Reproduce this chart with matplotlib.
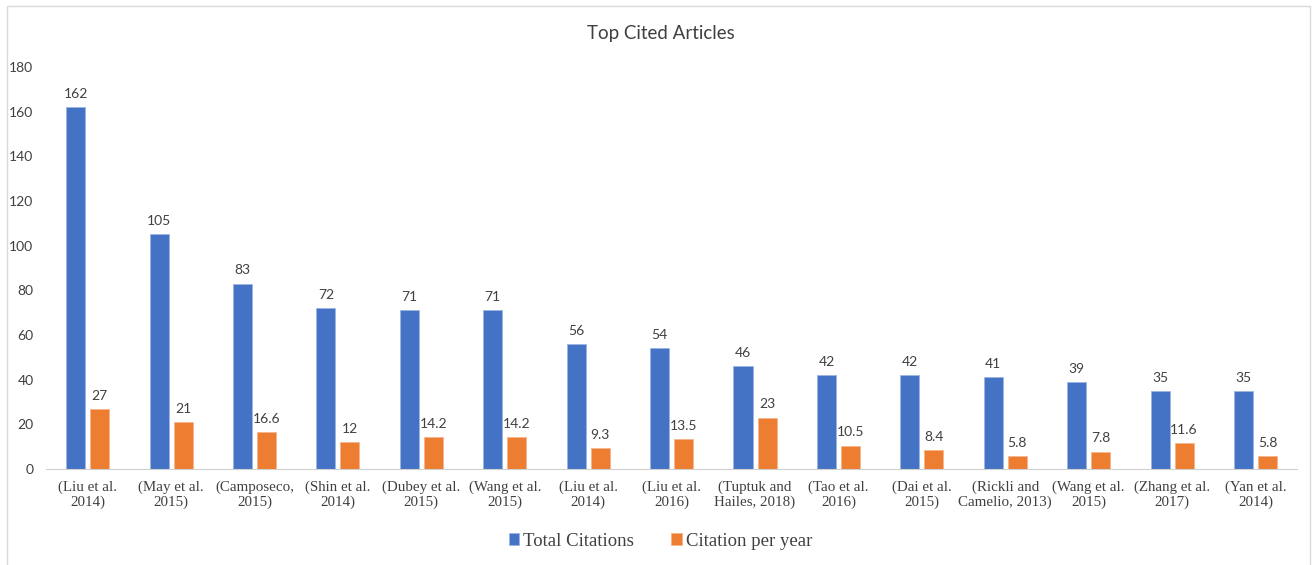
import numpy as np
import matplotlib.pyplot as plt
from matplotlib.patches import Rectangle

# data
articles = ["(Liu et al.\n2014)", "(May et al.\n2015)", "(Camposeco,\n2015)", "(Shin et al.\n2014)",
            "(Dubey et al.\n2015)", "(Wang et al.\n2015)", "(Liu et al.\n2014)", "(Liu et al.\n2016)",
            "(Tuptuk and\nHailes, 2018)", "(Tao et al.\n2016)", "(Dai et al.\n2015)", "(Rickli and\nCamelio, 2013)",
            "(Wang et al.\n2015)", "(Zhang et al.\n2017)", "(Yan et al.\n2014)"]
total_citations = [162, 105, 83, 72, 71, 71, 56, 54, 46, 42, 42, 41, 39, 35, 35]
citation_per_year = [27, 21, 16.6, 12, 14.2, 14.2, 9.3, 13.5, 23, 10.5, 8.4, 5.8, 7.8, 11.6, 5.8]

blue = "#4472C4"
orange = "#ED7D31"
txt = "#404040"

fig = plt.figure(figsize=(13.13, 5.65), dpi=100)
ax = fig.add_axes([0.035, 0.17, 0.953, 0.7114])

x = np.arange(len(articles))
w = 0.228
b1 = ax.bar(x - 0.144, total_citations, w, color=blue, edgecolor="#9DB5E3", linewidth=0.6, label="Total Citations")
b2 = ax.bar(x + 0.144, citation_per_year, w, color=orange, edgecolor="#F5B58E", linewidth=0.6, label="Citation per year")

for bars, vals in [(b1, total_citations), (b2, citation_per_year)]:
    for r, v in zip(bars, vals):
        ax.text(r.get_x() + r.get_width() / 2, v + 3.2, f"{v:g}", ha="center", va="bottom",
                fontsize=10, color=txt, family="Lato")

ax.set_xlim(-0.5, len(articles) - 0.5)
ax.set_ylim(0, 180)
ax.set_yticks(range(0, 181, 20))
ax.set_xticks(x)
ax.set_xticklabels(articles, family="Liberation Serif", fontsize=10.8, color=txt, linespacing=1.2)
for lab in ax.get_yticklabels():
    lab.set_family("Lato")
    lab.set_fontsize(10)
    lab.set_color(txt)
ax.tick_params(length=0)
ax.tick_params(axis="x", pad=8)
ax.tick_params(axis="y", pad=9)
for s in ["top", "right", "left"]:
    ax.spines[s].set_visible(False)
ax.spines["bottom"].set_color("#D0D0D0")

fig.text(0.503, 0.94, "Top Cited Articles", ha="center", va="center", fontsize=13.5, color=txt, family="Lato")

fig.legend(handles=[b1, b2], loc="center", bbox_to_anchor=(0.503, 0.042), ncol=2, frameon=False,
           prop={"family": "Liberation Serif", "size": 13.5}, handlelength=0.55, handleheight=0.55,
           handletextpad=0.2, columnspacing=2.0, labelcolor=txt)

# light frame round the chart
fig.patches.append(Rectangle((0.005, -0.01), 0.993, 1.0, transform=fig.transFigure,
                             fill=False, edgecolor="#D9D9D9", linewidth=1.0))

plt.savefig("out.png", dpi=100)
